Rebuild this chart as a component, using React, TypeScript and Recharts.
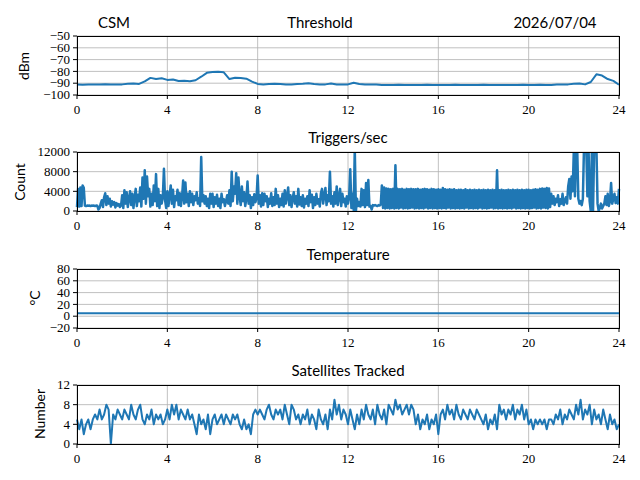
import React from 'react';
import { LineChart, Line, XAxis, YAxis, CartesianGrid } from 'recharts';

// hours on the x axis
const HOUR_TICKS = [0, 4, 8, 12, 16, 20, 24];

// Threshold (dBm), one value every 15 minutes
const thresholdValues = [
  -91, -91.4, -91.2, -91,
  -91, -90.9, -91, -91.1,
  -91, -90.4, -90.2, -90.6,
  -88.5, -85.5, -86.5, -85.8,
  -87.2, -86.8, -88.2, -88,
  -88.3, -87.5, -84.5, -81.2,
  -80.6, -80.2, -80.8, -86.5,
  -85.4, -85.6, -86.2, -88.6,
  -90.6, -91, -90.6, -90.4,
  -90.6, -91.2, -91, -90.6,
  -90.5, -90, -90.6, -91,
  -91, -90.2, -91.1, -91,
  -91, -89.6, -90.6, -91.2,
  -91, -91.2, -91.5, -91.5,
  -91.5, -91.4, -91.5, -91.6,
  -91.5, -91.5, -91.4, -91.5,
  -91.6, -91.5, -91.5, -91.4,
  -91.5, -91.5, -91.6, -91.5,
  -91.4, -91.5, -91.5, -91.5,
  -91.5, -91.6, -91.5, -91.4,
  -91.5, -91.5, -91.4, -91.5,
  -91.5, -91.2, -91, -91,
  -90.4, -90.2, -91, -89,
  -82.5, -83.5, -86.5, -88,
  -91.3,
];

// Triggers/sec, one value every 3 minutes (20 per hour)
const triggerValues = [
  800, 4500, 900, 4800, 1000, 5200, 4700, 1100, 1000, 1100, 1050, 1100, 1000, 1100, 1050, 1100, 1000, 1100, 1050, 300,
  600, 1500, 2200, 800, 2800, 3600, 1200, 3000, 1500, 2500, 900, 2000, 1300, 1800, 700, 1600, 1100, 1400, 800, 1100,
  3200, 600, 4200, 1500, 3800, 800, 2500, 4000, 1200, 3500, 600, 2800, 4500, 1000, 3300, 2000, 4800, 900, 6800, 2500,
  8300, 1500, 7000, 3000, 4500, 900, 3500, 1200, 5200, 2000, 7500, 1000, 4500, 600, 3200, 1500, 2800, 8600, 2200, 600,
  4000, 1000, 3200, 5200, 1500, 4300, 800, 3000, 2200, 4300, 1200, 3600, 1000, 2800, 6200, 1500, 5800, 1800, 3500, 1000,
  4000, 1800, 3500, 1200, 3000, 2200, 3800, 1500, 2600, 1000, 11000, 2000, 3200, 1500, 3000, 1000, 2500, 600, 3500, 1500,
  3500, 800, 2800, 1500, 3300, 1000, 2500, 600, 3500, 1800, 2400, 1000, 2000, 3200, 1500, 4200, 1000, 8000, 2000, 5000,
  3500, 7700, 1500, 6800, 3000, 1200, 5000, 2000, 3800, 1000, 2500, 6000, 1500, 3200, 600, 2800, 1200, 3400, 1800, 2600,
  7200, 1500, 3200, 900, 3600, 1200, 3500, 2000, 3000, 800, 2500, 1500, 3600, 1000, 2800, 1200, 4500, 1500, 3200, 800,
  2500, 1200, 3500, 900, 4200, 1500, 3000, 4800, 1200, 3200, 800, 2600, 3800, 1500, 3000, 900, 4500, 1300, 2800, 1000,
  3200, 700, 2500, 1500, 3000, 1000, 4200, 1800, 3300, 600, 2800, 1200, 3500, 1500, 2400, 900, 3600, 4500, 1500, 3200,
  4700, 1200, 3200, 2000, 8000, 1500, 3000, 900, 3800, 1500, 5000, 1200, 2800, 4500, 1000, 3500, 1800, 2500, 900, 3000,
  1500, 2800, 8500, 600, 3500, 200, 12500, 0, 2500, 1000, 1800, 900, 4500, 1200, 4200, 800, 5700, 1200, 6300, 900,
  1000, 300, 1200, 1100, 1200, 1100, 1000, 1200, 1100, 1300, 5200, 600, 4800, 500, 4600, 600, 4500, 500, 4400, 600,
  4500, 500, 9300, 600, 4500, 500, 4400, 700, 4500, 500, 4300, 600, 4500, 500, 4400, 600, 4500, 700, 4400, 500,
  4400, 600, 4500, 500, 4300, 600, 4400, 500, 4500, 700, 4400, 500, 4300, 600, 4500, 500, 4400, 600, 4300, 500,
  4400, 600, 4300, 500, 4700, 600, 4400, 500, 4300, 700, 4400, 500, 4300, 600, 4400, 500, 4200, 600, 4300, 500,
  4300, 600, 4200, 500, 4400, 700, 4200, 500, 4300, 600, 4200, 500, 4300, 600, 4200, 500, 4300, 700, 4200, 500,
  4300, 600, 4200, 500, 4300, 600, 4200, 700, 4300, 500, 4200, 600, 8300, 500, 4200, 600, 4300, 500, 4200, 600,
  4200, 500, 4300, 600, 4200, 500, 4300, 700, 4200, 500, 4300, 600, 4200, 500, 4300, 600, 4200, 500, 4300, 600,
  4300, 500, 4200, 600, 4300, 700, 4400, 500, 4300, 600, 4500, 500, 4600, 700, 4500, 600, 4700, 500, 4600, 800,
  3500, 1500, 3000, 1200, 2500, 1800, 3200, 1000, 2400, 1500, 3500, 1200, 2000, 2800, 1500, 5000, 6500, 2500, 7000, 4000,
  12500, 3000, 13000, 12500, 2500, 1500, 2000, 1200, 2500, 13000, 12500, 13000, 3000, 13000, 2000, 0, 13000, 0, 13000, 12500,
  13000, 1500, 0, 600, 1500, 500, 1000, 1500, 3000, 1200, 3500, 1000, 2000, 5700, 1500, 2500, 3500, 1600, 2800, 1500,
  4500,
];

// Temperature (°C), hourly
const temperatureValues = [
  5, 5, 5, 5, 5, 5, 5, 5, 5, 5, 5, 5, 5, 5, 5, 5, 5, 5, 5, 5, 5, 5, 5, 5, 5,
];

// Satellites tracked, one value every 6 minutes
const satelliteValues = [
  5, 3, 5, 2, 4, 5, 3, 5, 6, 5,
  7, 5, 6, 8, 7, 0, 6, 5, 7, 6,
  5, 7, 6, 5, 8, 6, 5, 7, 8, 5,
  4, 6, 5, 7, 4, 6, 5, 6, 4, 5,
  7, 5, 8, 6, 8, 5, 7, 6, 5, 7,
  5, 6, 4, 2, 6, 4, 5, 3, 6, 2,
  5, 6, 4, 5, 6, 4, 6, 5, 4, 6,
  5, 6, 4, 3, 5, 3, 4, 2, 6, 7,
  6, 7, 6, 5, 7, 8, 6, 5, 7, 6,
  7, 5, 8, 6, 4, 8, 7, 5, 6, 4,
  6, 5, 7, 4, 6, 5, 3, 7, 5, 4,
  6, 3, 7, 5, 9, 6, 8, 5, 7, 6,
  4, 7, 5, 3, 6, 4, 7, 5, 8, 6,
  5, 7, 4, 8, 6, 5, 7, 4, 8, 7,
  6, 9, 7, 8, 6, 7, 8, 6, 8, 7,
  4, 6, 3, 5, 4, 6, 3, 5, 4, 6,
  2, 6, 7, 5, 8, 6, 7, 5, 8, 6,
  5, 7, 6, 5, 7, 6, 5, 7, 6, 5,
  4, 6, 3, 5, 4, 6, 3, 8, 6, 7,
  5, 7, 6, 8, 5, 7, 6, 8, 5, 7,
  4, 5, 3, 5, 4, 5, 4, 5, 3, 5,
  5, 4, 6, 5, 7, 4, 6, 5, 7, 6,
  5, 8, 6, 9, 5, 7, 6, 8, 4, 7,
  5, 6, 4, 7, 5, 3, 6, 4, 5, 3,
  4,
];

const toRows = (values: number[], step: number) => values.map((v, i) => ({ x: i * step, y: v }));

const PLOT_LEFT = 77;
const PLOT_RIGHT = 619;
const BLUE = '#1f77b4';
const SERIF = 'Liberation Serif';
const SANS = 'Lato, "Open Sans", sans-serif';
const TICK_SIZE = 13;

const fmt = (v: number) => (v < 0 ? `\u2212${Math.abs(v)}` : String(v));

const XTick = (props: any) => {
  const { x, y, payload } = props;
  return (
    <text x={x} y={y} dy="0.75em" textAnchor="middle" fontFamily={SERIF} fontSize={TICK_SIZE} fill="#000">
      {fmt(payload.value)}
    </text>
  );
};

const YTick = (props: any) => {
  const { x, y, payload } = props;
  return (
    <text x={x} y={y} dy="0.33em" textAnchor="end" fontFamily={SERIF} fontSize={TICK_SIZE} fill="#000">
      {fmt(payload.value)}
    </text>
  );
};

const textStyle: React.CSSProperties = {
  position: 'absolute',
  transform: 'translate(-50%, -50%)',
  whiteSpace: 'nowrap',
  lineHeight: 1,
  fontFamily: SANS,
  fontSize: 15,
  color: '#000',
};

type PanelProps = {
  top: number;
  height: number;
  rows: { x: number; y: number }[];
  domain: [number, number];
  ticks: number[];
  title?: string;
  yLabel: string;
  yLabelX: number;
  lineWidth?: number;
};

function Panel({ top, height, rows, domain, ticks, title, yLabel, yLabelX, lineWidth = 1.5 }: PanelProps) {
  const pad = 30;
  return (
    <>
      <div style={{ position: 'absolute', left: 0, top: top - pad, width: 640, height: height + pad * 2, fontFamily: SERIF }}>
        <LineChart width={640} height={height + pad * 2} data={rows} margin={{ top: pad, right: 640 - PLOT_RIGHT, bottom: 0, left: 0 }}>
          <CartesianGrid stroke="#b0b0b0" strokeWidth={0.8} />
          <XAxis
            dataKey="x"
            type="number"
            domain={[0, 24]}
            ticks={HOUR_TICKS}
            interval={0}
            height={pad}
            axisLine={false}
            tickLine={{ stroke: '#000' }}
            tickSize={4}
            tickMargin={5}
            tick={XTick}
          />
          <YAxis
            type="number"
            domain={domain}
            ticks={ticks}
            interval={0}
            allowDataOverflow
            width={PLOT_LEFT}
            axisLine={false}
            tickLine={{ stroke: '#000' }}
            tickSize={4}
            tickMargin={3}
            tick={YTick}
          />
          <Line
            type="linear"
            dataKey="y"
            stroke={BLUE}
            strokeWidth={lineWidth}
            strokeLinejoin="round"
            dot={false}
            isAnimationActive={false}
          />
        </LineChart>
      </div>
      <div
        style={{
          position: 'absolute',
          left: PLOT_LEFT,
          top,
          width: PLOT_RIGHT - PLOT_LEFT + 1,
          height: height + 1,
          border: '1px solid #000',
          boxSizing: 'border-box',
          pointerEvents: 'none',
        }}
      />
      {title && <div style={{ ...textStyle, left: (PLOT_LEFT + PLOT_RIGHT) / 2, top: top - 15 }}>{title}</div>}
      <div
        style={{
          ...textStyle,
          fontSize: 14,
          left: yLabelX,
          top: top + height / 2,
          transform: 'translate(-50%, -50%) rotate(-90deg)',
        }}
      >
        {yLabel}
      </div>
    </>
  );
}

export default function App() {
  const step = 116.3;
  const h = 59;
  return (
    <div style={{ position: 'absolute', left: 0, top: 0, width: 640, height: 480, background: '#fff', overflow: 'hidden' }}>
      <div style={{ ...textStyle, left: 114, top: 22 }}>CSM</div>
      <div style={{ ...textStyle, left: 320, top: 22 }}>Threshold</div>
      <div style={{ ...textStyle, left: 555, top: 22 }}>2026/07/04</div>
      <Panel
        top={36}
        height={h}
        rows={toRows(thresholdValues, 0.25)}
        domain={[-100, -50]}
        ticks={[-100, -90, -80, -70, -60, -50]}
        yLabel="dBm"
        yLabelX={24}
        lineWidth={2}
      />
      <Panel
        top={36 + step}
        height={h}
        rows={toRows(triggerValues, 0.05)}
        domain={[0, 12000]}
        ticks={[0, 4000, 8000, 12000]}
        title="Triggers/sec"
        yLabel="Count"
        yLabelX={20}
        lineWidth={2.5}
      />
      <Panel
        top={36 + step * 2}
        height={h}
        rows={toRows(temperatureValues, 1)}
        domain={[-20, 80]}
        ticks={[-20, 0, 20, 40, 60, 80]}
        title="Temperature"
        yLabel="°C"
        yLabelX={35}
        lineWidth={2.2}
      />
      <Panel
        top={36 + step * 3}
        height={h}
        rows={toRows(satelliteValues, 0.1)}
        domain={[0, 12]}
        ticks={[0, 4, 8, 12]}
        title="Satellites Tracked"
        yLabel="Number"
        yLabelX={40}
        lineWidth={2}
      />
    </div>
  );
}
